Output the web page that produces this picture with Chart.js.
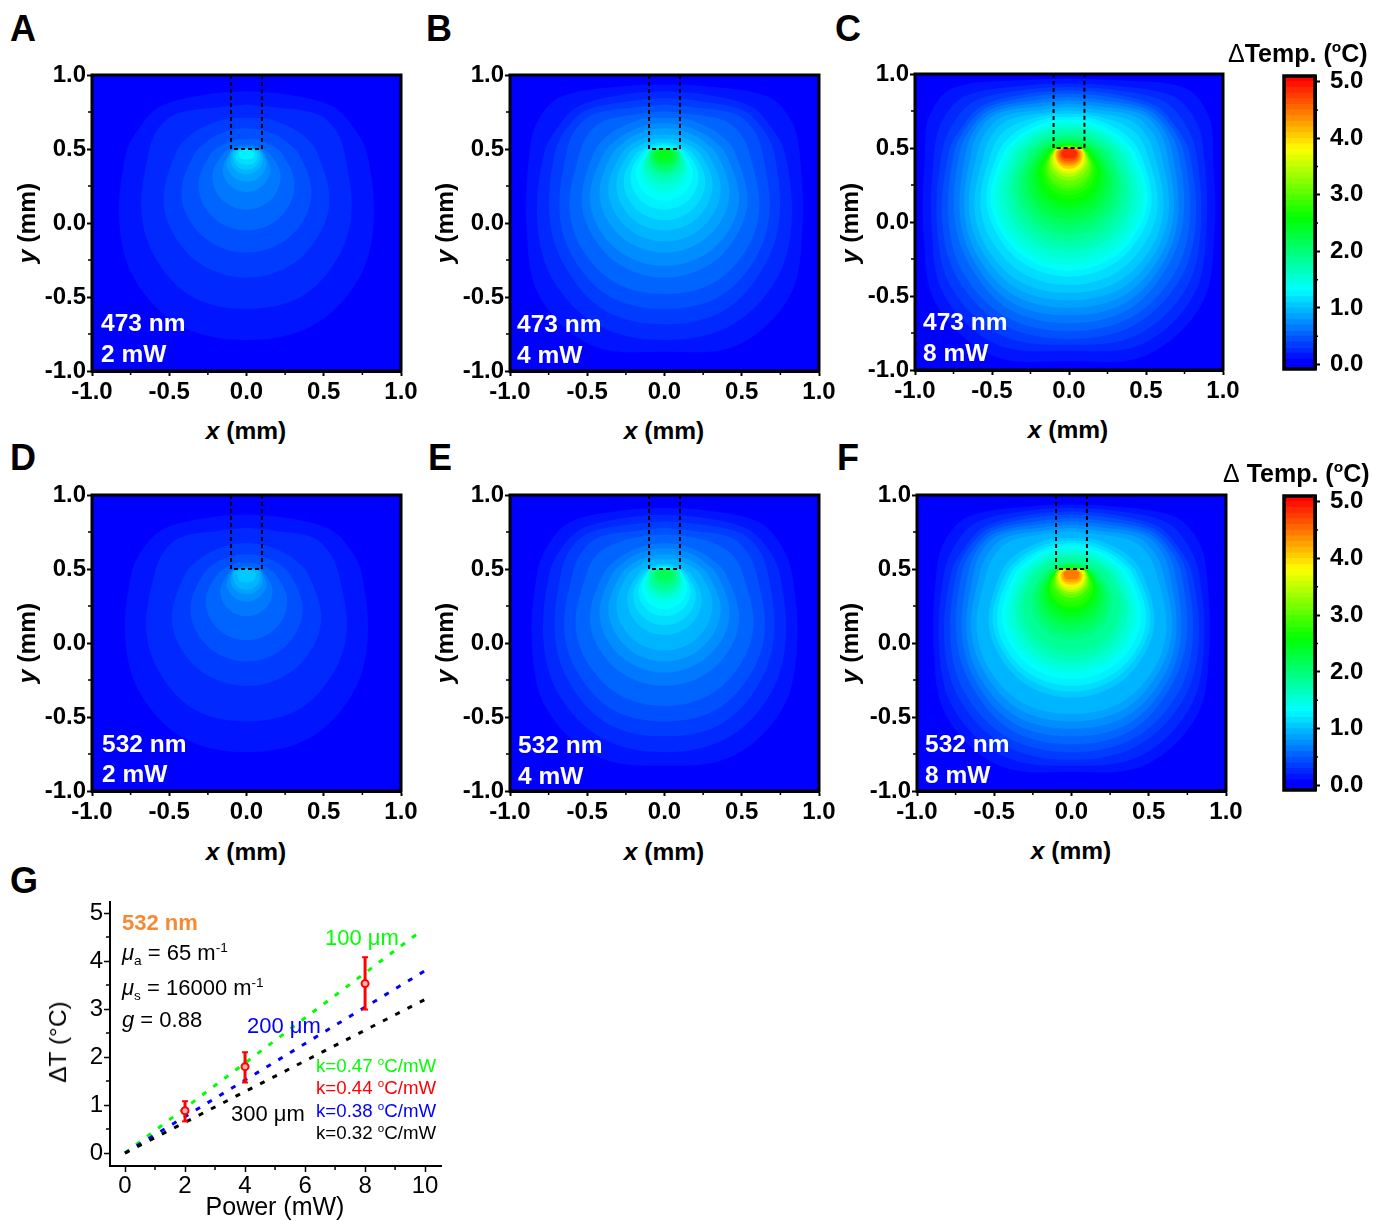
<!DOCTYPE html>
<html>
<head>
<meta charset="utf-8">
<script src="https://cdn.jsdelivr.net/npm/chart.js@4"></script>
<style>
  html, body { margin: 0; padding: 0; background: #fff; }
  #page { position: relative; width: 1373px; height: 1221px; overflow: hidden; font-family: "Liberation Sans", Arial, sans-serif; color: #000; }
  #page canvas { position: absolute; }
  .t { position: absolute; white-space: nowrap; line-height: 1; }
  .t sup, .t sub { font-size: .62em; line-height: 0; }
</style>
</head>
<body>
<div id="page"></div>
<script>
// axis ticks
const panelTicks = [-1, -0.5, 0, 0.5, 1];
const panelMinor = [-0.75, -0.25, 0.25, 0.75];
const barTicks = [0, 1, 2, 3, 4, 5];
const barMinor = [0.5, 1.5, 2.5, 3.5, 4.5];
const powerTicks = [0, 2, 4, 6, 8, 10];
const powerMinor = [1, 3, 5, 7, 9];
const deltaTicks = [0, 1, 2, 3, 4, 5];
const deltaMinor = [0.5, 1.5, 2.5, 3.5, 4.5];

// colour scale
const stopTemps = [0, 1.27, 2.54, 3.75, 5];
const stopColors = [[0, 0, 255], [0, 255, 255], [0, 255, 0], [255, 255, 0], [255, 0, 0]];
const barLevels = [0, 0.1, 0.2, 0.3, 0.4, 0.5, 0.6, 0.7, 0.8, 0.9, 1, 1.1, 1.2, 1.3, 1.4, 1.5, 1.6, 1.7, 1.8, 1.9, 2, 2.1, 2.2, 2.3, 2.4, 2.5, 2.6, 2.7, 2.8, 2.9, 3, 3.1, 3.2, 3.3, 3.4, 3.5, 3.6, 3.7, 3.8, 3.9, 4, 4.1, 4.2, 4.3, 4.4, 4.5, 4.6, 4.7, 4.8, 4.9, 5];

// iso-temperature contours, outermost first. radius (mm) along each ray from the fibre tip
const rayAngles = [0, 30, 60, 75, 90, 120, 140, 160, 180];
const tipX = 0, tipY = 0.47;
const contourRadii = [
  [0.500, 0.565, 0.870, 0.940, 0.935, 1.090, 1.340, 1.460, 1.410],
  [0.465, 0.525, 0.770, 0.850, 0.875, 1.030, 1.260, 1.380, 1.340],
  [0.443, 0.495, 0.700, 0.775, 0.825, 0.990, 1.190, 1.310, 1.300],
  [0.420, 0.465, 0.640, 0.710, 0.780, 0.950, 1.120, 1.240, 1.260],
  [0.398, 0.440, 0.610, 0.685, 0.745, 0.905, 1.065, 1.185, 1.208],
  [0.375, 0.412, 0.585, 0.655, 0.710, 0.860, 1.000, 1.130, 1.155],
  [0.353, 0.387, 0.555, 0.630, 0.670, 0.820, 0.960, 1.080, 1.100],
  [0.330, 0.360, 0.530, 0.600, 0.635, 0.785, 0.920, 1.030, 1.050],
  [0.308, 0.335, 0.490, 0.555, 0.595, 0.750, 0.875, 0.980, 1.000],
  [0.285, 0.310, 0.445, 0.510, 0.550, 0.710, 0.835, 0.930, 0.950],
  [0.263, 0.290, 0.390, 0.460, 0.505, 0.665, 0.780, 0.870, 0.895],
  [0.240, 0.270, 0.340, 0.400, 0.460, 0.620, 0.725, 0.810, 0.840],
  [0.223, 0.245, 0.305, 0.360, 0.425, 0.590, 0.690, 0.770, 0.800],
  [0.205, 0.222, 0.280, 0.330, 0.395, 0.557, 0.661, 0.734, 0.760],
  [0.188, 0.203, 0.257, 0.300, 0.365, 0.520, 0.620, 0.690, 0.715],
  [0.170, 0.185, 0.235, 0.275, 0.337, 0.485, 0.580, 0.646, 0.670],
  [0.150, 0.163, 0.210, 0.250, 0.307, 0.450, 0.545, 0.610, 0.633],
  [0.130, 0.142, 0.185, 0.225, 0.278, 0.418, 0.508, 0.572, 0.595],
  [0.112, 0.126, 0.165, 0.200, 0.253, 0.387, 0.474, 0.536, 0.558],
  [0.095, 0.110, 0.146, 0.180, 0.230, 0.356, 0.440, 0.500, 0.520],
  [0.085, 0.097, 0.129, 0.160, 0.207, 0.328, 0.408, 0.465, 0.485],
  [0.075, 0.083, 0.112, 0.142, 0.184, 0.300, 0.377, 0.431, 0.450],
  [0.068, 0.075, 0.101, 0.128, 0.167, 0.275, 0.347, 0.397, 0.415],
  [0.060, 0.066, 0.091, 0.115, 0.151, 0.251, 0.317, 0.363, 0.380],
  [0.055, 0.060, 0.083, 0.108, 0.138, 0.230, 0.291, 0.334, 0.350],
  [0.050, 0.055, 0.076, 0.102, 0.126, 0.210, 0.266, 0.306, 0.320],
  [0.047, 0.052, 0.071, 0.099, 0.120, 0.192, 0.242, 0.277, 0.290],
  [0.045, 0.050, 0.067, 0.096, 0.115, 0.175, 0.218, 0.248, 0.260],
  [0.042, 0.047, 0.066, 0.094, 0.112, 0.167, 0.206, 0.232, 0.243],
  [0.040, 0.045, 0.065, 0.092, 0.110, 0.160, 0.195, 0.215, 0.225],
  [0.035, 0.040, 0.062, 0.090, 0.105, 0.150, 0.170, 0.185, 0.190],
  [0.033, 0.038, 0.060, 0.088, 0.102, 0.132, 0.148, 0.158, 0.165],
  [0.030, 0.035, 0.058, 0.085, 0.098, 0.118, 0.130, 0.138, 0.140],
  [0.030, 0.035, 0.056, 0.080, 0.093, 0.107, 0.117, 0.124, 0.125],
  [0.030, 0.035, 0.055, 0.075, 0.088, 0.097, 0.104, 0.110, 0.110],
  [0.030, 0.034, 0.052, 0.068, 0.080, 0.088, 0.092, 0.092, 0.090],
  [0.030, 0.034, 0.050, 0.060, 0.070, 0.078, 0.080, 0.078, 0.075],
  [0.030, 0.032, 0.042, 0.052, 0.060, 0.066, 0.066, 0.062, 0.060],
  [0.030, 0.030, 0.035, 0.044, 0.050, 0.052, 0.050, 0.043, 0.040]
];

// temperature of each contour in each panel
const tempsA = [0.03, 0.05, 0.08, 0.1, 0.13, 0.15, 0.18, 0.2, 0.23, 0.25, 0.28, 0.3, 0.33, 0.35, 0.38, 0.4, 0.43, 0.45, 0.48, 0.5, 0.53, 0.55, 0.58, 0.6, 0.63, 0.65, 0.68, 0.7, 0.73, 0.75, 0.8, 0.85, 0.9, 0.95, 1, 1.05, 1.1, 1.15, 1.2];
const tempsB = [0.05, 0.1, 0.15, 0.2, 0.25, 0.3, 0.35, 0.4, 0.45, 0.5, 0.55, 0.6, 0.65, 0.7, 0.75, 0.8, 0.85, 0.9, 0.95, 1, 1.05, 1.1, 1.15, 1.2, 1.25, 1.3, 1.35, 1.4, 1.45, 1.5, 1.6, 1.7, 1.8, 1.9, 2, 2.1, 2.2, 2.3, 2.4];
const tempsC = [0.1, 0.2, 0.3, 0.4, 0.5, 0.6, 0.7, 0.8, 0.9, 1, 1.1, 1.2, 1.3, 1.4, 1.5, 1.6, 1.7, 1.8, 1.9, 2, 2.1, 2.2, 2.3, 2.4, 2.5, 2.6, 2.7, 2.8, 2.9, 3, 3.2, 3.4, 3.6, 3.8, 4, 4.2, 4.4, 4.6, 4.8];
const tempsD = [0.02, 0.05, 0.07, 0.09, 0.11, 0.14, 0.16, 0.18, 0.2, 0.23, 0.25, 0.27, 0.29, 0.32, 0.34, 0.36, 0.38, 0.41, 0.43, 0.45, 0.47, 0.5, 0.52, 0.54, 0.56, 0.59, 0.61, 0.63, 0.65, 0.68, 0.72, 0.77, 0.81, 0.86, 0.9, 0.95, 0.99, 1.04, 1.08];
const tempsE = [0.05, 0.09, 0.14, 0.18, 0.23, 0.27, 0.32, 0.36, 0.41, 0.45, 0.5, 0.54, 0.59, 0.63, 0.68, 0.72, 0.77, 0.81, 0.86, 0.9, 0.95, 0.99, 1.04, 1.08, 1.13, 1.17, 1.22, 1.26, 1.31, 1.35, 1.44, 1.53, 1.62, 1.71, 1.8, 1.89, 1.98, 2.07, 2.16];
const tempsF = [0.09, 0.18, 0.27, 0.36, 0.45, 0.54, 0.63, 0.72, 0.81, 0.9, 0.99, 1.08, 1.17, 1.26, 1.35, 1.44, 1.53, 1.62, 1.71, 1.8, 1.89, 1.98, 2.07, 2.16, 2.25, 2.34, 2.43, 2.52, 2.61, 2.7, 2.88, 3.06, 3.24, 3.42, 3.6, 3.8, 4, 4.2, 4.45];

// fibre outline
const fibreX = [-0.1, -0.1, 0.1, 0.1];
const fibreY = [1, 0.5, 0.5, 1];

// panel G
const fitPowerGreen = [0, 9.7];
const fitGreen = [0, 4.55];
const fitPower = [0, 10];
const fitBlue = [0, 3.8];
const fitBlack = [0, 3.2];
const measPower = [2, 4, 8];
const measTemp = [0.88, 1.8, 3.53];
const measLow = [0.66, 1.47, 2.99];
const measHigh = [1.08, 2.1, 4.08];

const page = document.getElementById('page');
const FONT = '"Liberation Sans", Arial, sans-serif';

function tempColor(t) {
  // colour bar is stepped in 0.1 bands
  const v = Math.floor(t * 10 + 1e-6) / 10;
  let i = 0;
  while (i < stopTemps.length - 2 && v > stopTemps[i + 1]) i++;
  const f = Math.min(1, (v - stopTemps[i]) / (stopTemps[i + 1] - stopTemps[i]));
  const c = stopColors[i].map((a, k) => Math.round(a + (stopColors[i + 1][k] - a) * f));
  return 'rgb(' + c.join(',') + ')';
}

function text(html, x, y, css, anchor) {
  const d = document.createElement('div');
  d.className = 't';
  d.innerHTML = html;
  d.style.left = x + 'px';
  d.style.top = y + 'px';
  d.style.cssText += css || '';
  d.style.transform = anchor === 'mid' ? 'translate(-50%,-50%)' :
    anchor === 'rot' ? 'translate(-50%,-50%) rotate(-90deg)' : 'translateY(-50%)';
  page.appendChild(d);
}

function makeCanvas(left, top, w, h) {
  const c = document.createElement('canvas');
  c.width = w; c.height = h;
  c.style.left = left + 'px'; c.style.top = top + 'px';
  c.style.width = w + 'px'; c.style.height = h + 'px';
  page.appendChild(c);
  return c;
}

// blue background, box frame and the short minor ticks
const axisDecor = {
  id: 'axisDecor',
  beforeDatasetsDraw(chart, args, opts) {
    if (!opts.fill) return;
    const a = chart.chartArea, ctx = chart.ctx;
    ctx.save();
    ctx.fillStyle = opts.fill;
    ctx.fillRect(a.left, a.top, a.right - a.left, a.bottom - a.top);
    ctx.restore();
  },
  afterDraw(chart, args, opts) {
    const a = chart.chartArea, ctx = chart.ctx;
    ctx.save();
    ctx.strokeStyle = '#000';
    if (opts.frame) {
      ctx.lineWidth = opts.frame;
      ctx.strokeRect(a.left, a.top, a.right - a.left, a.bottom - a.top);
    }
    ctx.lineWidth = 1.5;
    ctx.beginPath();
    (opts.minorX || []).forEach(v => {
      const p = chart.scales.x.getPixelForValue(v);
      ctx.moveTo(p, a.bottom); ctx.lineTo(p, a.bottom + 4);
    });
    (opts.minorY || []).forEach(v => {
      const p = chart.scales.y.getPixelForValue(v);
      if (opts.minorRight) { ctx.moveTo(a.right, p); ctx.lineTo(a.right + 3, p); }
      else { ctx.moveTo(a.left, p); ctx.lineTo(a.left - 4, p); }
    });
    ctx.stroke();
    ctx.restore();
  }
};

// fixed axis sizes so the plot box lands where the layout says
function fixHeight(h) {
  return s => { s.height = h; s.paddingLeft = 0; s.paddingRight = 0; };
}
function fixWidth(w) {
  return s => { s.width = w; s.paddingTop = 0; s.paddingBottom = 0; };
}

function contourPoints(radii) {
  const right = radii.map((r, i) => {
    const a = rayAngles[i] * Math.PI / 180;
    return { x: tipX + r * Math.sin(a), y: tipY + r * Math.cos(a) };
  });
  const left = right.slice(0, -1).reverse().map(p => ({ x: 2 * tipX - p.x, y: p.y }));
  return right.concat(left);
}

function heatPanel(box, temps) {
  const [l, r, t, b] = box;
  const canvas = makeCanvas(l - 60, t - 14, r - l + 84, b - t + 50);
  const datasets = [{
    data: fibreX.map((x, i) => ({ x: x, y: fibreY[i] })),
    showLine: true, fill: false, pointRadius: 0,
    borderColor: '#000', borderWidth: 2, borderDash: [4, 3]
  }];
  for (let i = contourRadii.length - 1; i >= 0; i--) {
    datasets.push({
      data: contourPoints(contourRadii[i]),
      showLine: true, fill: 'shape', tension: 0.35, pointRadius: 0, borderWidth: 0,
      borderColor: 'transparent', backgroundColor: tempColor(temps[i])
    });
  }
  const tickFont = { family: FONT, size: 24, weight: 'bold' };
  new Chart(canvas, {
    type: 'scatter',
    data: { datasets: datasets },
    options: {
      responsive: false, animation: false, events: [],
      layout: { padding: { top: 14, right: 24 } },
      plugins: {
        legend: { display: false }, tooltip: { enabled: false },
        axisDecor: { fill: '#0000ff', frame: 3, minorX: panelMinor, minorY: panelMinor }
      },
      scales: {
        x: {
          type: 'linear', min: -1, max: 1,
          afterBuildTicks(s) { s.ticks = panelTicks.map(v => ({ value: v })); },
          afterFit: fixHeight(36),
          grid: { drawOnChartArea: false, tickLength: 5, tickWidth: 2, tickColor: '#000' },
          border: { color: '#000', width: 3 },
          ticks: { font: tickFont, color: '#000', padding: 2, maxRotation: 0, autoSkip: false, callback: v => v.toFixed(1) }
        },
        y: {
          type: 'linear', min: -1, max: 1,
          afterBuildTicks(s) { s.ticks = panelTicks.map(v => ({ value: v })); },
          afterFit: fixWidth(60),
          grid: { drawOnChartArea: false, tickLength: 5, tickWidth: 2, tickColor: '#000' },
          border: { color: '#000', width: 3 },
          ticks: { font: tickFont, color: '#000', padding: 1, autoSkip: false, callback: v => v.toFixed(1) }
        }
      }
    },
    plugins: [axisDecor]
  });
}

function colorBar(l, r, t, b) {
  const canvas = makeCanvas(l - 4, t - 14, r - l + 64, b - t + 28);
  const barMin = -0.08, barMax = 5.1;
  const datasets = barLevels.map(v => ({
    data: [[v === 0 ? barMin : v, v + 0.1]],
    backgroundColor: tempColor(v), borderWidth: 0,
    barPercentage: 1, categoryPercentage: 1, grouped: false
  }));
  new Chart(canvas, {
    type: 'bar',
    data: { labels: ['ΔTemp'], datasets: datasets },
    options: {
      responsive: false, animation: false, events: [],
      layout: { padding: { top: 14, bottom: 14, left: 4 } },
      plugins: {
        legend: { display: false }, tooltip: { enabled: false },
        axisDecor: { frame: 3.5, minorY: barMinor, minorRight: true }
      },
      scales: {
        x: { display: false },
        y: {
          position: 'right', min: barMin, max: barMax,
          afterBuildTicks(s) { s.ticks = barTicks.map(v => ({ value: v })); },
          afterFit: fixWidth(60),
          grid: { drawOnChartArea: false, tickLength: 5, tickWidth: 2, tickColor: '#000' },
          border: { color: '#000', width: 3 },
          ticks: { font: { family: FONT, size: 24, weight: 'bold' }, color: '#000', padding: 10, autoSkip: false, callback: v => v.toFixed(1) }
        }
      }
    },
    plugins: [axisDecor]
  });
}

function powerPanel() {
  const canvas = makeCanvas(60, 890, 396, 320);
  const fit = (xs, ys, color) => ({
    data: xs.map((x, i) => ({ x: x, y: ys[i] })),
    showLine: true, pointRadius: 0, borderColor: color, borderWidth: 3, borderDash: [5, 8.8]
  });
  const errs = measPower.map((x, i) => ({
    data: [{ x: x, y: measLow[i] }, { x: x, y: measHigh[i] }],
    showLine: true, borderColor: '#ff0000', borderWidth: 3,
    pointStyle: 'line', pointRadius: 3, pointBorderWidth: 2, pointBorderColor: '#ff0000'
  }));
  const meas = {
    data: measPower.map((x, i) => ({ x: x, y: measTemp[i] })),
    showLine: false, pointRadius: 3.5, pointBorderWidth: 2,
    pointBorderColor: '#ff0000', pointBackgroundColor: '#ffb4b4'
  };
  const tickFont = { family: FONT, size: 24 };
  new Chart(canvas, {
    type: 'scatter',
    data: { datasets: [meas].concat(errs, [fit(fitPower, fitBlack, '#000'), fit(fitPower, fitBlue, '#0000ff'), fit(fitPowerGreen, fitGreen, '#00ff00')]) },
    options: {
      responsive: false, animation: false, events: [],
      layout: { padding: { top: 12, right: 15 } },
      plugins: {
        legend: { display: false }, tooltip: { enabled: false },
        axisDecor: { minorX: powerMinor, minorY: deltaMinor }
      },
      scales: {
        x: {
          type: 'linear', min: -0.5, max: 10.53,
          afterBuildTicks(s) { s.ticks = powerTicks.map(v => ({ value: v })); },
          afterFit: fixHeight(44),
          grid: { drawOnChartArea: false, tickLength: 6, tickWidth: 1.5, tickColor: '#000' },
          border: { color: '#000', width: 2 },
          ticks: { font: tickFont, color: '#000', padding: 0, maxRotation: 0, autoSkip: false }
        },
        y: {
          type: 'linear', min: -0.27, max: 5.23,
          afterBuildTicks(s) { s.ticks = deltaTicks.map(v => ({ value: v })); },
          afterFit: fixWidth(50),
          grid: { drawOnChartArea: false, tickLength: 6, tickWidth: 1.5, tickColor: '#000' },
          border: { color: '#000', width: 2 },
          ticks: { font: tickFont, color: '#000', padding: 1, autoSkip: false }
        }
      }
    },
    plugins: [axisDecor]
  });
}

heatPanel([92, 401, 75, 371], tempsA);
heatPanel([510, 819, 75, 371], tempsB);
heatPanel([915, 1223, 74, 370], tempsC);
heatPanel([92, 401, 495, 791], tempsD);
heatPanel([510, 819, 495, 791], tempsE);
heatPanel([917, 1226, 495, 791], tempsF);
colorBar(1284, 1315, 76, 369);
colorBar(1284, 1315, 496, 790);
powerPanel();

// panel letters
const letterCss = 'font:bold 36px ' + FONT + ';';
[['A', 10, 29], ['B', 426, 29], ['C', 835, 29], ['D', 10, 458], ['E', 428, 458], ['F', 837, 458], ['G', 10, 881]]
  .forEach(a => text(a[0], a[1], a[2], letterCss));

// axis titles
const titleCss = 'font:bold 24.5px ' + FONT + ';';
[[246, 431], [664, 431], [1068, 430], [246, 852], [664, 852], [1071, 851]]
  .forEach(a => text('<i>x</i> (mm)', a[0], a[1], titleCss, 'mid'));
[[27, 223], [445, 223], [850, 223], [27, 643], [445, 643], [850, 643]]
  .forEach(a => text('<i>y</i> (mm)', a[0], a[1], titleCss, 'rot'));

// wavelength and power labels inside the maps
const noteCss = 'color:#fff;font:bold 24.5px ' + FONT + ';';
[['473 nm', 101, 323], ['2 mW', 101, 354], ['473 nm', 517, 324], ['4 mW', 517, 355], ['473 nm', 923, 322], ['8 mW', 923, 353],
 ['532 nm', 102, 744], ['2 mW', 102, 774], ['532 nm', 518, 745], ['4 mW', 518, 776], ['532 nm', 925, 744], ['8 mW', 925, 775]]
  .forEach(a => text(a[0], a[1], a[2], noteCss));

// colour bar headers
const headCss = 'font:bold 25px ' + FONT + ';';
text('<span style="font-weight:normal">Δ</span>Temp. (<sup>o</sup>C)', 1228, 53, headCss);
text('<span style="font-weight:normal">Δ</span>&nbsp;Temp. (<sup>o</sup>C)', 1223, 473, headCss);

// panel G text
const gCss = 'font:22px ' + FONT + ';';
text('Power (mW)', 275, 1206, 'font:25px ' + FONT + ';', 'mid');
text('ΔT (°C)', 58, 1042, 'font:24.5px ' + FONT + ';', 'rot');
text('532 nm', 122, 923, 'color:#f58a35;font:bold 22px ' + FONT + ';');
text('<i>μ</i><sub>a</sub> = 65 m<sup>-1</sup>', 122, 953, gCss);
text('<i>μ</i><sub>s</sub> = 16000 m<sup>-1</sup>', 122, 988, gCss);
text('<i>g</i> = 0.88', 122, 1020, gCss);
text('100 μm', 325, 938, 'color:#00ff00;' + gCss);
text('200 μm', 247, 1026, 'color:#0000ff;' + gCss);
text('300 μm', 231, 1114, gCss);
const kCss = 'font:18.7px ' + FONT + ';';
text('k=0.47 <sup>o</sup>C/mW', 316, 1066, 'color:#00ff00;' + kCss);
text('k=0.44 <sup>o</sup>C/mW', 316, 1088, 'color:#ff0000;' + kCss);
text('k=0.38 <sup>o</sup>C/mW', 316, 1111, 'color:#0000ff;' + kCss);
text('k=0.32 <sup>o</sup>C/mW', 316, 1133, kCss);
</script>
</body>
</html>
